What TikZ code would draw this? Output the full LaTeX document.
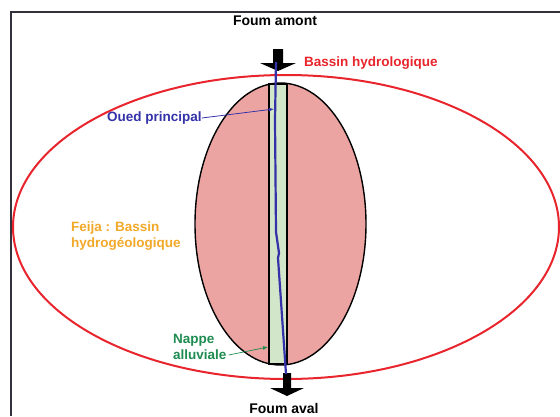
\documentclass[tikz,border=0pt]{standalone}
\usepackage{fontspec}
\setmainfont{Liberation Sans}
\usetikzlibrary{positioning,arrows.meta,shapes.geometric}
\definecolor{bassinred}{RGB}{232,36,44}
\definecolor{feijapink}{RGB}{236,164,162}
\definecolor{nappegreen}{RGB}{210,230,202}
\definecolor{oued}{RGB}{52,50,168}
\definecolor{feijaorange}{RGB}{242,168,40}
\definecolor{nappetext}{RGB}{30,140,80}
\definecolor{framegray}{RGB}{50,50,60}
\begin{document}
\begin{tikzpicture}[x=1pt,y=-1pt,
  lbl/.style={font=\bfseries\fontsize{13.5}{16}\selectfont,inner sep=0pt},
  ptr/.style={-{Latex[length=5pt,width=4pt]},line width=0.8pt},
  fleche/.style={fill=black,draw=none}]
\useasboundingbox (0,0) rectangle (560,416);
\draw[framegray,line width=1.3pt] (11,416) -- (11,12) -- (560,12);
% bassins
\node[draw=bassinred,line width=2pt,ellipse,minimum width=546,minimum height=304,inner sep=0pt] (bassin) at (286,227) {};
\node[draw=black,fill=feijapink,line width=1.4pt,ellipse,minimum width=171,minimum height=282,inner sep=0pt] (feija) at (280.5,224) {};
\node[draw=black,fill=nappegreen,line width=1.4pt,rectangle,minimum width=18,minimum height=280,inner sep=0pt] (nappe) at (278,224) {};
% foums
\fill[fleche] (273,49) -- (283,49) -- (283,63) -- (296,63) -- (278,71) -- (260,63) -- (273,63) -- cycle;
\fill[fleche] (283,373) -- (291,373) -- (291,388) -- (304,388) -- (287,396) -- (270,388) -- (283,388) -- cycle;
\coordinate (amont) at (276,62);
\coordinate (aval) at (286,374);
% oued
\draw[oued,line width=2.2pt,line join=round] (amont) -- (275,120) -- (276,232) -- (279,253) -- (278,258) -- (aval);
% textes
\node[lbl,font=\bfseries\fontsize{14}{16}\selectfont] (tamont) at (275,21) {Foum amont};
\node[lbl,font=\bfseries\fontsize{14}{16}\selectfont] (taval) at (284,408) {Foum aval};
\node[lbl,text=bassinred,anchor=west] (tbassin) at (304,63) {Bassin hydrologique};
\node[lbl,text=oued,anchor=west] (toued) at (107,118) {Oued principal};
\node[lbl,text=feijaorange,anchor=west,align=left] (tfeija) at (71,236) {Feija : Bassin\\hydrogéologique};
\node[lbl,text=nappetext,anchor=west] (tnappe) at (173,340) {Nappe};
\node[lbl,text=nappetext,anchor=west] (talluv) at (173,355) {alluviale};
\coordinate (pointoued) at (274,109);
\coordinate (pointnappe) at (268,347);
\draw[ptr,oued] (toued.east) -- (pointoued);
\draw[ptr,nappetext,line width=0.7pt] ([xshift=2pt]talluv.east) -- (pointnappe);
\end{tikzpicture}
\end{document}
